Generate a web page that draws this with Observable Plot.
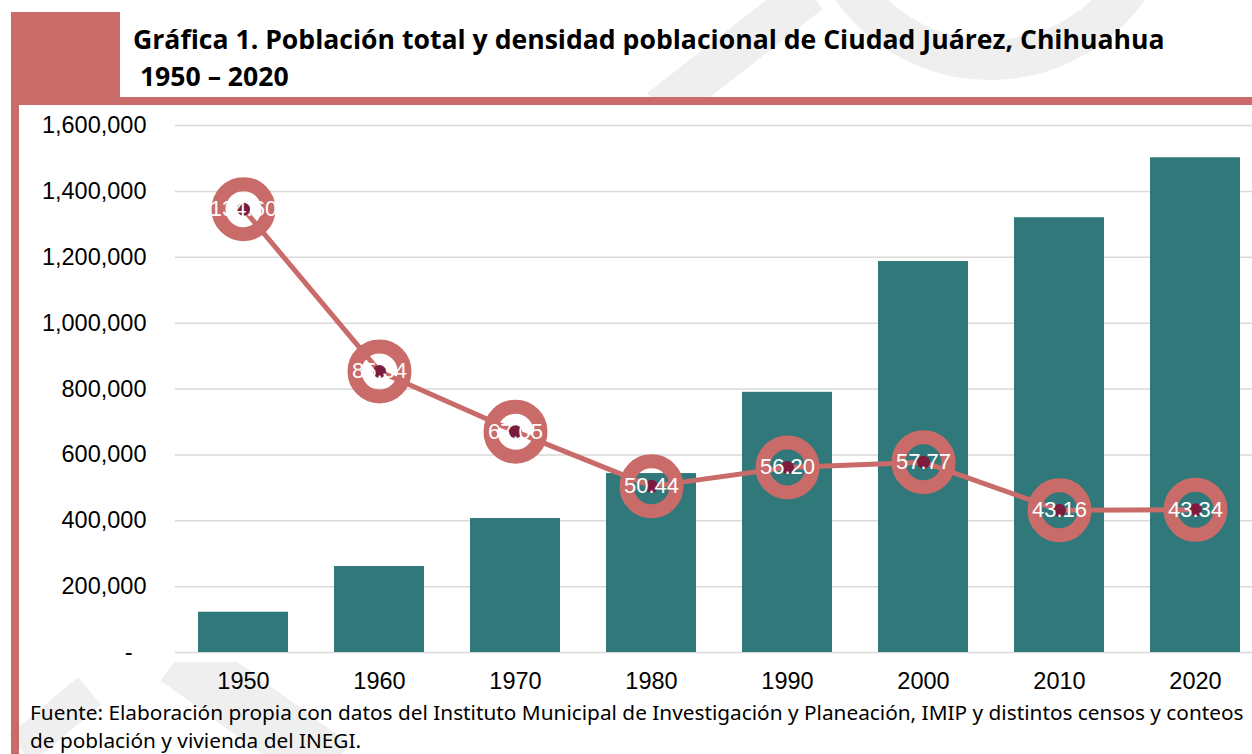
<!DOCTYPE html>
<html>
<head>
<meta charset="utf-8">
<script src="https://cdn.jsdelivr.net/npm/d3@7"></script>
<script src="https://cdn.jsdelivr.net/npm/@observablehq/plot@0.6"></script>
<style>
  html, body { margin: 0; padding: 0; background: #fff; }
  #wrap { position: relative; width: 1252px; height: 754px; overflow: hidden; background: #fff; }
  .deco { position: absolute; background: #c96b69; z-index: 1; }
  .clip { position: absolute; overflow: hidden; z-index: 0; }
  .wm { position: absolute; background: #efefef; }
  #title { position: relative; height: 104px; box-sizing: border-box; padding: 21px 0 0 133px;
    font-family: "Open Sans", "Noto Sans", sans-serif; font-weight: 700; font-size: 26.6px; line-height: 37px; color: #000; z-index: 2; white-space: nowrap; }
  #chart { position: relative; z-index: 2; }
  #caption { position: absolute; left: 30px; top: 699px; width: 1222px; z-index: 2; white-space: nowrap;
    font-family: "Noto Sans", "Open Sans", sans-serif; font-size: 20.8px; line-height: 27.5px; color: #000; }
</style>
</head>
<body>
<div id="wrap">
  <div class="clip" style="left:0;top:0;width:1252px;height:97px">
    <div class="wm" style="left:640px;top:30px;width:190px;height:42px;transform:rotate(-38deg)"></div>
    <div class="wm" style="left:800px;top:-300px;width:300px;height:300px;border-radius:50%;background:none;border:40px solid #efefef"></div>
  </div>
  <div class="clip" style="left:0;top:662px;width:1252px;height:92px">
    <div class="wm" style="left:160px;top:20px;width:190px;height:60px;transform:rotate(36deg)"></div>
    <div class="wm" style="left:10px;top:40px;width:90px;height:36px;transform:rotate(-40deg)"></div>
  </div>
  <div class="deco" style="left:11px;top:12px;width:8px;height:742px"></div>
  <div class="deco" style="left:11px;top:12px;width:109px;height:86px"></div>
  <div class="deco" style="left:11px;top:97px;width:1241px;height:8px"></div>
  <div id="title">Gráfica 1. Población total y densidad poblacional de Ciudad Juárez, Chihuahua<br>&nbsp;1950 – 2020</div>
  <div id="chart"></div>
  <div id="caption">Fuente: Elaboración propia con datos del Instituto Municipal de Investigación y Planeación, IMIP y distintos censos y conteos<br>de población y vivienda del INEGI.</div>
</div>
<script>
const years = ["1950", "1960", "1970", "1980", "1990", "2000", "2010", "2020"];
const population = [122300, 261000, 406700, 543300, 790000, 1187000, 1320000, 1502000];
const density = [134.60, 85.34, 67.05, 50.44, 56.20, 57.77, 43.16, 43.34];
const yTicks = [0, 200000, 400000, 600000, 800000, 1000000, 1200000, 1400000, 1600000];
// secondary (density) axis: 0–160 maps onto 0–1,600,000
const densityAxisMax = 160;
const popAxisMax = 1600000;

const data = years.map((year, i) => ({year, pop: population[i], density: density[i]}));
const dy = d => d.density * (popAxisMax / densityAxisMax);

const teal = "#31787b";
const salmon = "#c96b69";

const chart = Plot.plot({
  width: 1252,
  height: 600,
  marginLeft: 175,
  marginRight: 0,
  marginTop: 21,
  marginBottom: 52,
  style: {background: "transparent", fontFamily: "'Liberation Sans', Arial, sans-serif", color: "#000"},
  x: {domain: years, range: [175, 1263], paddingInner: 0.34, paddingOuter: 0.17},
  y: {domain: [0, popAxisMax]},
  marks: [
    Plot.frame({fill: "white", stroke: "none"}),
    Plot.gridY(yTicks, {stroke: "#d9d9d9", strokeOpacity: 1, strokeWidth: 1.5}),
    Plot.barY(data, {x: "year", y: "pop", fill: teal}),
    Plot.axisY(yTicks.filter(d => d > 0), {tickSize: 0, tickPadding: 29, fontSize: 23.5, tickFormat: d3.format(","), label: null}),
    Plot.axisY([0], {tickSize: 0, tickPadding: 43, fontSize: 23.5, tickFormat: () => "-", label: null}),
    Plot.axisX({tickSize: 0, tickPadding: 20, fontSize: 23.5, label: null}),
    Plot.line(data, {x: "year", y: dy, stroke: salmon, strokeWidth: 5}),
    Plot.dot(data, {x: "year", y: dy, r: 25, stroke: salmon, strokeWidth: 14, fill: "none"}),
    Plot.dot(data, {x: "year", y: dy, r: 6.5, fill: "#7b1c3e", stroke: "none"}),
    Plot.text(data, {x: "year", y: dy, text: d => d.density.toFixed(2), fill: "white", fontSize: 22})
  ]
});
document.getElementById("chart").appendChild(chart);
</script>
</body>
</html>
